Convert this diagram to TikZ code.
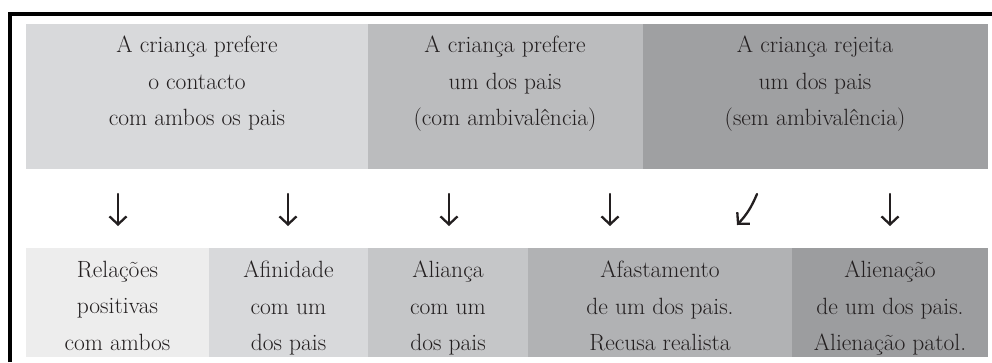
\documentclass[tikz,border=0pt]{standalone}
\usepackage{fontspec}
\usetikzlibrary{arrows.meta}
\definecolor{ink}{HTML}{231F20}
\definecolor{ta}{HTML}{D8D9DB}
\definecolor{tb}{HTML}{BBBCBE}
\definecolor{tc}{HTML}{9FA0A2}
\definecolor{ba}{HTML}{EDEDED}
\definecolor{bb}{HTML}{D8D9DB}
\definecolor{bc}{HTML}{C5C6C8}
\definecolor{bd}{HTML}{B1B2B4}
\definecolor{be}{HTML}{9C9D9F}
\tikzset{
  box/.style={rectangle, inner sep=0pt, draw=none, anchor=north west},
  txt/.style={inner sep=0pt, anchor=north, align=center, text=ink,
    font=\fontsize{23.5}{36.3}\selectfont},
  arr/.style={draw=ink, line width=2.3pt, line cap=round,
    -{Straight Barb[length=8pt,width=17pt,line width=2.3pt]}},
  frame/.style={draw=black, line width=4pt}
}
\begin{document}
\begin{tikzpicture}[x=1pt,y=-1pt]
\useasboundingbox (0,0) rectangle (992,362);
% frame
\draw[frame] (10,362) -- (10,14) -- (992,14);
% top boxes
\node[box, fill=ta, minimum width=342pt, minimum height=145pt] (t1) at (26,24) {};
\node[box, fill=tb, minimum width=275pt, minimum height=145pt] (t2) at (368,24) {};
\node[box, fill=tc, minimum width=345pt, minimum height=145pt] (t3) at (643,24) {};
% bottom boxes
\node[box, fill=ba, minimum width=183pt, minimum height=109pt] (b1) at (26,248) {};
\node[box, fill=bb, minimum width=159pt, minimum height=109pt] (b2) at (209,248) {};
\node[box, fill=bc, minimum width=160pt, minimum height=109pt] (b3) at (368,248) {};
\node[box, fill=bd, minimum width=264pt, minimum height=109pt] (b4) at (528,248) {};
\node[box, fill=be, minimum width=196pt, minimum height=109pt] (b5) at (792,248) {};
% top texts
\node[txt] (t1t) at (197,36) {A criança prefere\\o contacto\\com ambos os pais};
\node[txt] (t2t) at (505,36) {A criança prefere\\um dos pais\\(com ambivalência)};
\node[txt] (t3t) at (815,36) {A criança rejeita\\um dos pais\\(sem ambivalência)};
% bottom texts
\node[txt] (b1t) at (117.5,261) {Relações\\positivas\\com ambos};
\node[txt] (b2t) at (288.5,261) {Afinidade\\com um\\dos pais};
\node[txt] (b3t) at (448,261) {Aliança\\com um\\dos pais};
\node[txt] (b4t) at (660,261) {Afastamento\\de um dos pais.\\Recusa realista};
\node[txt] (b5t) at (890,261) {Alienação\\de um dos pais.\\Alienação patol.};
% arrows
\coordinate (a1s) at (118,194); \coordinate (a1e) at (118,226);
\coordinate (a2s) at (288,194); \coordinate (a2e) at (288,226);
\coordinate (a3s) at (449,194); \coordinate (a3e) at (449,226);
\coordinate (a4s) at (610,194); \coordinate (a4e) at (610,226);
\coordinate (a5s) at (757,194); \coordinate (a5e) at (737,225);
\coordinate (a6s) at (890,194); \coordinate (a6e) at (890,226);
\draw[arr] (a1s) -- (a1e);
\draw[arr] (a2s) -- (a2e);
\draw[arr] (a3s) -- (a3e);
\draw[arr] (a4s) -- (a4e);
\draw[arr] (a5s) to[bend left=10] (a5e);
\draw[arr] (a6s) -- (a6e);
\end{tikzpicture}
\end{document}
